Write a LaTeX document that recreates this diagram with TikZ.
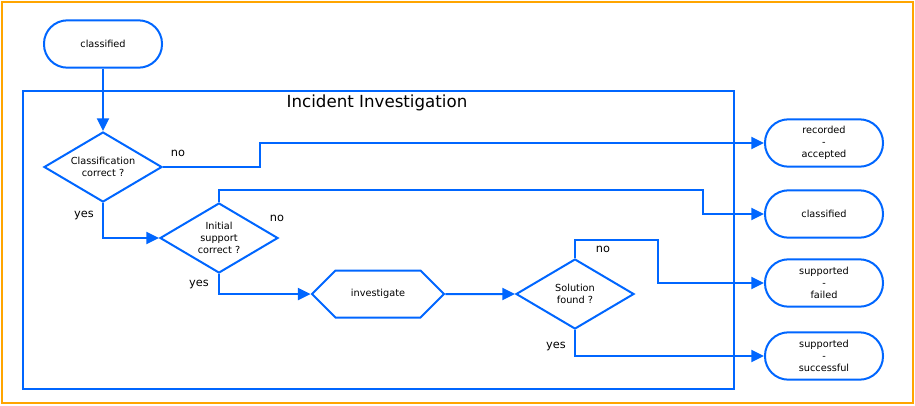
\documentclass[tikz,border=0pt]{standalone}
\usepackage{fontspec}
\setmainfont{DejaVu Sans}
\usepackage{tikz}
\usetikzlibrary{shapes.geometric,shapes.symbols,arrows.meta}
\definecolor{flowblue}{RGB}{0,102,255}
\definecolor{frameorange}{RGB}{255,165,0}
\tikzset{
  term/.style={draw=flowblue, line width=1.5pt, rectangle, rounded corners=17.5pt,
    minimum width=88.5pt, minimum height=35.5pt, align=center,
    font=\fontsize{7.3}{9}\selectfont},
  ask/.style={draw=flowblue, line width=1.5pt, diamond, inner sep=0pt, shape aspect=1.686,
    minimum width=88.5pt, minimum height=52.5pt, align=center,
    font=\fontsize{7.3}{9}\selectfont},
  task/.style={draw=flowblue, line width=1.5pt, signal, signal to=east and west,
    signal pointer angle=90, minimum width=99pt, minimum height=35.25pt,
    font=\fontsize{7.3}{9}\selectfont},
  lbl/.style={font=\fontsize{8.5}{10}\selectfont},
  arr/.style={draw=flowblue, line width=1.5pt, -{Triangle[length=9.5pt,width=9pt]}}
}

\begin{document}
\begin{tikzpicture}[x=0.75pt, y=-0.75pt]
\useasboundingbox (0,0) rectangle (915,405);
\draw[frameorange, line width=1.5pt] (2,2) rectangle (913,403);

\node (box) [draw=flowblue, line width=1.5pt, minimum width=533.25pt, minimum height=223.5pt] at (378.5,240) {};
\node (title) at (377,103) {\fontsize{12.5}{14}\selectfont Incident Investigation};

\node (s) [term] at (103,44) {classified};
\node (d1) [ask] at (103,167) {Classification\\correct ?};
\node (d2) [ask] at (219,238) {Initial\\support\\correct ?};
\node (inv) [task] at (378,294) {investigate};
\node (d3) [ask] at (575,294) {Solution\\found ?};

\node (t1) [term] at (824,143) {recorded\\-\\accepted};
\node (t2) [term] at (824,214) {classified};
\node (t3) [term] at (824,283) {supported\\-\\failed};
\node (t4) [term] at (824,356) {supported\\-\\successful};

\draw[arr] (s) -- (d1);
\draw[arr] (d1.east) -- ++(97,0) |- (t1);
\draw[arr] (d1.south) |- (d2.west);
\draw[arr] (d2.north) -- ++(0,-12) -- ++(484,0) |- (t2);
\draw[arr] (d2.south) |- (inv.west);
\draw[arr] (inv) -- (d3);
\draw[arr] (d3.north) -- ++(0,-18) -- ++(83,0) |- (t3);
\draw[arr] (d3.south) |- (t4);

\node (no1) [lbl] at (178,153) {no};
\node (yes1) [lbl] at (84,215) {yes};
\node (no2) [lbl] at (277,218) {no};
\node (yes2) [lbl] at (199,284) {yes};
\node (no3) [lbl] at (603,249) {no};
\node (yes3) [lbl] at (556,346) {yes};

\end{tikzpicture}
\end{document}
